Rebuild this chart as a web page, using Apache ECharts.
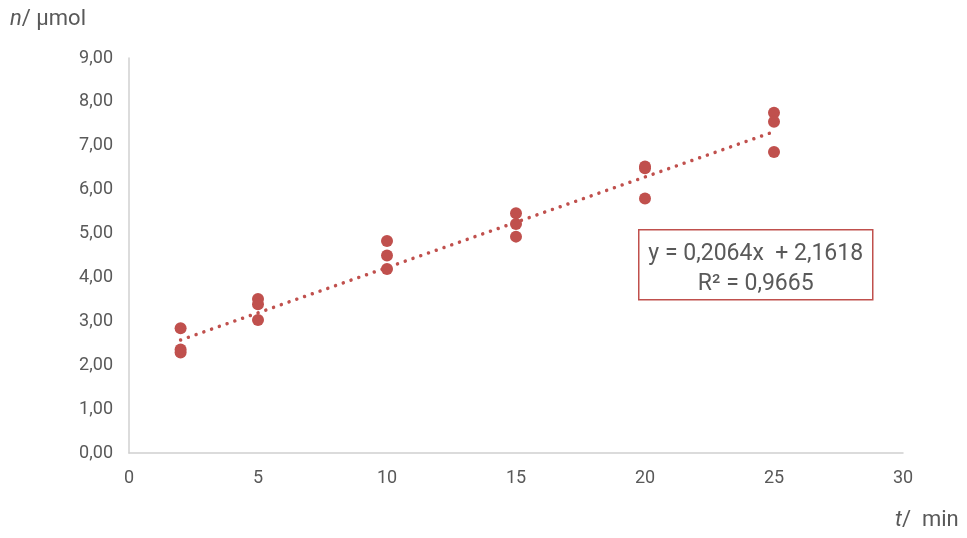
<!DOCTYPE html>
<html>
<head>
<meta charset="utf-8">
<script src="https://cdn.jsdelivr.net/npm/echarts@6/dist/echarts.min.js"></script>
<style>
  html, body { margin: 0; padding: 0; background: #fff; }
  #chart { width: 967px; height: 538px; }
</style>
</head>
<body>
<div id="chart"></div>
<script>
// Sampling times (min) and measured amounts (µmol), three replicates each
const times = [2, 5, 10, 15, 20, 25];
const rep1 = [2.84, 3.51, 4.83, 5.46, 6.53, 7.75];
const rep2 = [2.36, 3.39, 4.50, 5.22, 6.49, 7.55];
const rep3 = [2.29, 3.03, 4.19, 4.93, 5.80, 6.86];

// Linear trend line coefficients and fit quality
const slope = 0.2064;
const intercept = 2.1618;
const rSquared = 0.9665;

const xTicks = { min: 0, max: 30, step: 5 };
const yTicks = { min: 0, max: 9, step: 1 };

const red = '#c0504d';
const grey = '#595959';
const font = 'Roboto, "Noto Sans", sans-serif';

const points = [];
[rep1, rep2, rep3].forEach(rep => {
  rep.forEach((v, i) => points.push([times[i], v]));
});

const tFirst = times[0], tLast = times[times.length - 1];
const trend = [
  [tFirst, slope * tFirst + intercept],
  [tLast, slope * tLast + intercept]
];

const fmt = (v, d) => v.toFixed(d).replace('.', ',');

const chart = echarts.init(document.getElementById('chart'));
chart.setOption({
  backgroundColor: '#fff',
  animation: false,
  grid: { left: 129, right: 64, top: 58, bottom: 85 },
  xAxis: {
    type: 'value',
    min: xTicks.min, max: xTicks.max, interval: xTicks.step,
    axisLine: { show: true, lineStyle: { color: '#d0d0d0', width: 1.5 } },
    axisTick: { show: false },
    splitLine: { show: false },
    axisLabel: { color: grey, fontSize: 18, fontFamily: font, margin: 16 }
  },
  yAxis: {
    type: 'value',
    min: yTicks.min, max: yTicks.max, interval: yTicks.step,
    axisLine: { show: true, lineStyle: { color: '#d0d0d0', width: 1.5 } },
    axisTick: { show: false },
    splitLine: { show: false },
    axisLabel: {
      color: grey, fontSize: 18, fontFamily: font, margin: 16,
      padding: [4, 0, 0, 0],
      formatter: v => fmt(v, 2)
    }
  },
  series: [
    {
      type: 'line',
      data: trend,
      symbol: 'none',
      z: 1,
      lineStyle: { color: red, width: 3.5, type: [0.01, 8.2], cap: 'round' }
    },
    {
      type: 'scatter',
      data: points,
      symbolSize: 12,
      z: 2,
      itemStyle: { color: red, opacity: 1 }
    }
  ],
  graphic: [
    {
      type: 'text', left: 10, top: 8,
      style: {
        text: '{i|n}/ µmol',
        fill: grey, fontSize: 22, fontFamily: font,
        rich: { i: { fontStyle: 'italic', fontSize: 22, fill: grey, fontFamily: font } }
      }
    },
    {
      type: 'text', left: 895, top: 509,
      style: {
        text: '{i|t}/  min',
        fill: grey, fontSize: 22, fontFamily: font,
        rich: { i: { fontStyle: 'italic', fontSize: 22, fill: grey, fontFamily: font } }
      }
    },
    {
      type: 'group', left: 638, top: 229,
      children: [
        {
          type: 'rect',
          shape: { x: 0, y: 0, width: 234, height: 70 },
          style: { fill: '#fff', stroke: red, lineWidth: 1.5 }
        },
        {
          type: 'text', x: 117, y: 24,
          style: {
            text: 'y = ' + fmt(slope, 4) + 'x  + ' + fmt(intercept, 4),
            fill: grey, fontSize: 23, fontFamily: font,
            align: 'center', verticalAlign: 'middle'
          }
        },
        {
          type: 'text', x: 117, y: 54,
          style: {
            text: 'R² = ' + fmt(rSquared, 4),
            fill: grey, fontSize: 23, fontFamily: font,
            align: 'center', verticalAlign: 'middle'
          }
        }
      ]
    }
  ]
});
</script>
</body>
</html>
